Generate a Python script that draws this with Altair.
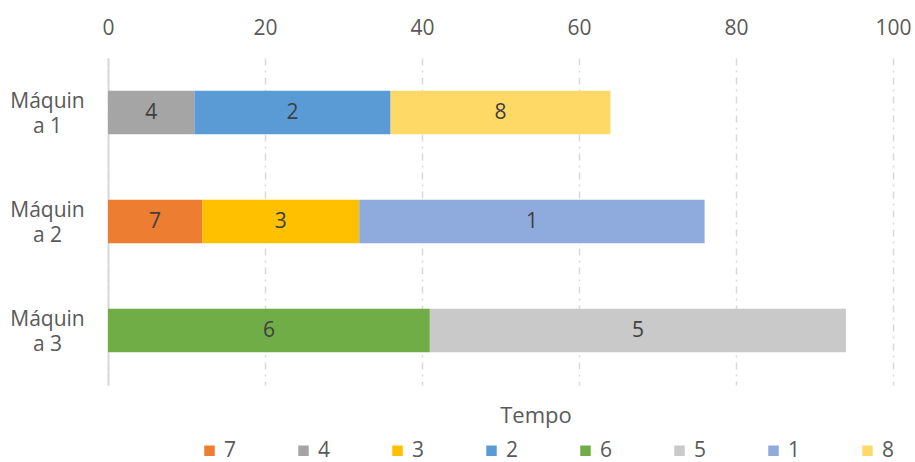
import altair as alt
import pandas as pd

machines = ["Máquina 1", "Máquina 1", "Máquina 1",
            "Máquina 2", "Máquina 2", "Máquina 2",
            "Máquina 3", "Máquina 3"]
jobs = ["4", "2", "8", "7", "3", "1", "6", "5"]
durations = [11, 25, 28, 12, 20, 44, 41, 53]

legend_order = ["7", "4", "3", "2", "6", "5", "1", "8"]
legend_colors = ["#ED7D31", "#A5A5A5", "#FFC000", "#5B9BD5",
                 "#70AD47", "#C9C9C9", "#8FAADC", "#FFD966"]
x_ticks = [0, 20, 40, 60, 80, 100]
axis_title = ["Tempo"]

starts, ends = [], []
acc = {}
for m, d in zip(machines, durations):
    s = acc.get(m, 0)
    starts.append(s)
    ends.append(s + d)
    acc[m] = s + d
df = pd.DataFrame({"machine": machines, "job": jobs, "start": starts, "end": ends})
df["mid"] = (df["start"] + df["end"]) / 2

FONT = "Open Sans"
TXT = "#595959"

base = alt.Chart(df)

bars = base.mark_bar().encode(
    y=alt.Y("machine:N", title=None,
            scale=alt.Scale(paddingInner=0.6, paddingOuter=0.3),
            axis=alt.Axis(domain=True, domainColor="#D9D9D9", domainWidth=2,
                          ticks=False, labelAlign="center", labelBaseline="middle",
                          labelPadding=61, labelFontSize=21, labelFont=FONT,
                          labelColor=TXT, labelLineHeight=25, labelLimit=200,
                          labelOffset=-11, labelOverlap=False,
                          labelExpr="[substring(datum.label, 0, 6), substring(datum.label, 6)]")),
    x=alt.X("start:Q", title=None,
            scale=alt.Scale(domain=[0, 100], nice=False),
            axis=alt.Axis(orient="top", values=x_ticks, domain=False, ticks=False,
                          labelFontSize=21, labelFont=FONT, labelColor=TXT,
                          labelPadding=20, labelFlush=False, labelBound=False,
                          grid=True, gridColor="#D9D9D9",
                          gridWidth=1.5, gridDash=[7, 5, 2, 5])),
    x2="end:Q",
    color=alt.Color("job:N", title=None,
                    scale=alt.Scale(domain=legend_order, range=legend_colors),
                    legend=alt.Legend(orient="none", legendX=91, legendY=382,
                                      direction="horizontal", columns=8,
                                      symbolType="square", symbolSize=110,
                                      symbolStrokeWidth=0, labelFontSize=21,
                                      labelFont=FONT, labelColor=TXT,
                                      labelOffset=4, columnPadding=56)),
)

labels = base.mark_text(fontSize=21, font=FONT, color="#404040").encode(
    y=alt.Y("machine:N"),
    x=alt.X("mid:Q"),
    text="job:N",
)

title = alt.Chart(pd.DataFrame({"t": axis_title})).mark_text(
    fontSize=22, font=FONT, color=TXT, baseline="middle"
).encode(x=alt.value(428), y=alt.value(358), text="t:N")

chart = (bars + labels + title).properties(
    width=785, height=327,
    autosize=alt.AutoSizeParams(type="none"),
    padding={"left": 108, "top": 58, "right": 22, "bottom": 77},
).configure_view(stroke=None)

chart.save("out.html", embed_options={"renderer": "svg", "actions": False})
